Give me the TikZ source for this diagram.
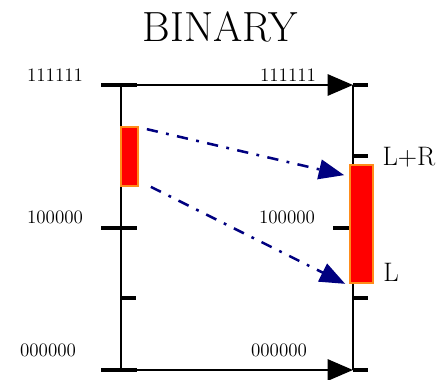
\documentclass[tikz,border=0pt]{standalone}
\usepackage{tikz}
\usetikzlibrary{arrows.meta,calc}
\usepackage{xcolor}
\definecolor{barred}{HTML}{FF0000}
\definecolor{barorange}{HTML}{FF8C1A}
\definecolor{mapnavy}{HTML}{000080}

\begin{document}
\begin{tikzpicture}[
  x=0.025cm, y=-0.025cm,
  axisline/.style={line width=1.8pt, black},
  tickline/.style={line width=2.2pt, black},
  axisarrow/.style={
    line width=1.8pt,
    -{Triangle[length=18pt,width=15pt]}
  },
  rangebar/.style={
    draw=barorange,
    fill=barred,
    line width=1.2pt,
    inner sep=0pt
  },
  maparrow/.style={
    mapnavy,
    line width=1.8pt,
    dash pattern=on 8pt off 6pt on 2pt off 6pt,
    -{Triangle[length=18pt,width=14pt]}
  },
  codelabel/.style={font=\fontsize{13.5}{15}\selectfont, inner sep=0pt},
  sidelabel/.style={font=\fontsize{19}{22}\selectfont, inner sep=0pt}
]
  \useasboundingbox (0,0) rectangle (440,380);

  % Title
  \node[font=\fontsize{30}{34}\selectfont, inner sep=0pt] (title) at (220,27) {BINARY};

  % --- corners of the two axes ---
  \coordinate (tl) at (121,85);
  \coordinate (bl) at (121,370);
  \coordinate (tr) at (353,85);
  \coordinate (br) at (353,370);

  % Axes
  \draw[axisline] (tl) -- (bl);
  \draw[axisline] (tr) -- (br);
  \draw[axisarrow] (tl) -- (tr);
  \draw[axisarrow] (bl) -- (br);

  % Ticks on the left axis
  \foreach \y in {85,228,370}
    \draw[tickline] (101,\y) -- (137,\y);
  \draw[tickline] (121,298) -- (136,298);

  % Ticks on the right axis
  \foreach \y in {85,156,298,370}
    \draw[tickline] (353,\y) -- (368,\y);
  \draw[tickline] (333,228) -- (353,228);

  % Range bars
  \node[rangebar, minimum width=17*0.025cm, minimum height=59*0.025cm] (leftbar) at (129.5,156.5) {};
  \node[rangebar, minimum width=23*0.025cm, minimum height=118*0.025cm] (rightbar) at (361.5,224) {};

  % Mapping arrows
  \draw[maparrow] ($(leftbar.north east)+(8,3)$) -- ($(rightbar.north west)+(-5,11)$);
  \draw[maparrow] ($(leftbar.south east)+(12,0)$) -- ($(rightbar.south west)+(-4,0)$);

  % Code labels
  \node[codelabel] (topleft) at (55,75) {111111};
  \node[codelabel] (topright) at (288,75) {111111};
  \node[codelabel] (midleft) at (55,217) {100000};
  \node[codelabel] (midright) at (287,217) {100000};
  \node[codelabel] (botleft) at (48,350) {000000};
  \node[codelabel] (botright) at (279,350) {000000};

  % Bar ends
  \node[sidelabel] (lr) at (409,157) {L+R};
  \node[sidelabel] (l) at (391,272) {L};

\end{tikzpicture}
\end{document}
